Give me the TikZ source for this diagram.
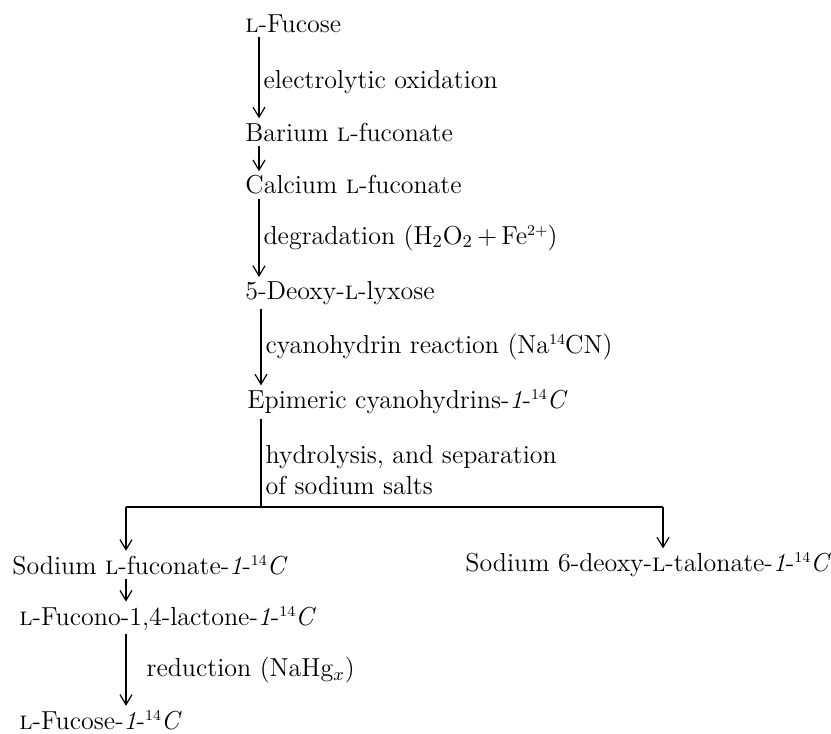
\documentclass[tikz,border=0pt]{standalone}
\usepackage{tikz}
\usetikzlibrary{positioning, arrows.meta}

\newcommand{\Lsc}{\textsc{l}}
\newcommand{\isot}[1]{\raisebox{0.8ex}{\fontsize{7.5}{8}\selectfont #1}}
\newcommand{\labC}{-\textit{1}-\isot{14}\textit{C}}

\tikzset{
  chem/.style={anchor=west,inner sep=2pt,font=\fontsize{13}{15.5}\selectfont},
  cond/.style={right,inner sep=2pt,align=left,font=\fontsize{13}{15.5}\selectfont},
  arr/.style={-{Straight Barb[length=5pt,width=6pt]},line width=0.6pt}
}

\begin{document}
\begin{tikzpicture}[x=0.5pt,y=-0.5pt]
  \useasboundingbox (0,0) rectangle (831,734);
  % columns for the arrows
  \coordinate (col) at (259,0);
  \coordinate (colL) at (126,0);
  \coordinate (colR) at (663,0);
  \coordinate (fork) at (261,507);

  \node[chem] (fucose) at (241,24) {\Lsc-Fucose};
  \node[chem] (barium) at (241,132) {Barium \Lsc-fuconate};
  \node[chem] (calcium) at (241,185) {Calcium \Lsc-fuconate};
  \node[chem] (deoxy) at (241,293) {5-Deoxy-\Lsc-lyxose};
  \node[chem] (epimer) at (243,402) {Epimeric cyanohydrins\labC};
  \node[chem] (fuconate) at (8,565) {Sodium \Lsc-fuconate\labC};
  \node[chem] (talonate) at (461,565) {Sodium 6-deoxy-\Lsc-talonate\labC};
  \node[chem] (lactone) at (15,618) {\Lsc-Fucono-1,4-lactone\labC};
  \node[chem] (product) at (15,720) {\Lsc-Fucose\labC};

  \draw[arr] (fucose.south -| col) -- node[cond,pos=0.55] {electrolytic oxidation} (barium.north -| col);
  \draw[arr] (barium.south -| col) -- (calcium.north -| col);
  \draw[arr] (calcium.south -| col) -- node[cond,pos=0.5] {degradation (H$_2$O$_2$\,+\,Fe\isot{2+})} (deoxy.north -| col);
  \draw[arr] (deoxy.south -| fork) -- node[cond,pos=0.5] {cyanohydrin reaction (Na\isot{14}CN)} (epimer.north -| fork);

  % branching to the two salts
  \draw[line width=0.6pt] (epimer.south -| fork) -- node[cond,pos=0.58] {hydrolysis, and separation\\of sodium salts} (fork);
  \draw[line width=0.6pt] (fork -| colL) -- (fork -| colR);
  \draw[arr] (fork -| colL) -- (fuconate.north -| colL);
  \draw[arr] (fork -| colR) -- (talonate.north -| colR);

  \draw[arr] (fuconate.south -| colL) -- (lactone.north -| colL);
  \draw[arr] (lactone.south -| colL) -- node[cond,pos=0.5,xshift=8pt] {reduction (NaHg$_x$)} (product.north -| colL);
\end{tikzpicture}
\end{document}
